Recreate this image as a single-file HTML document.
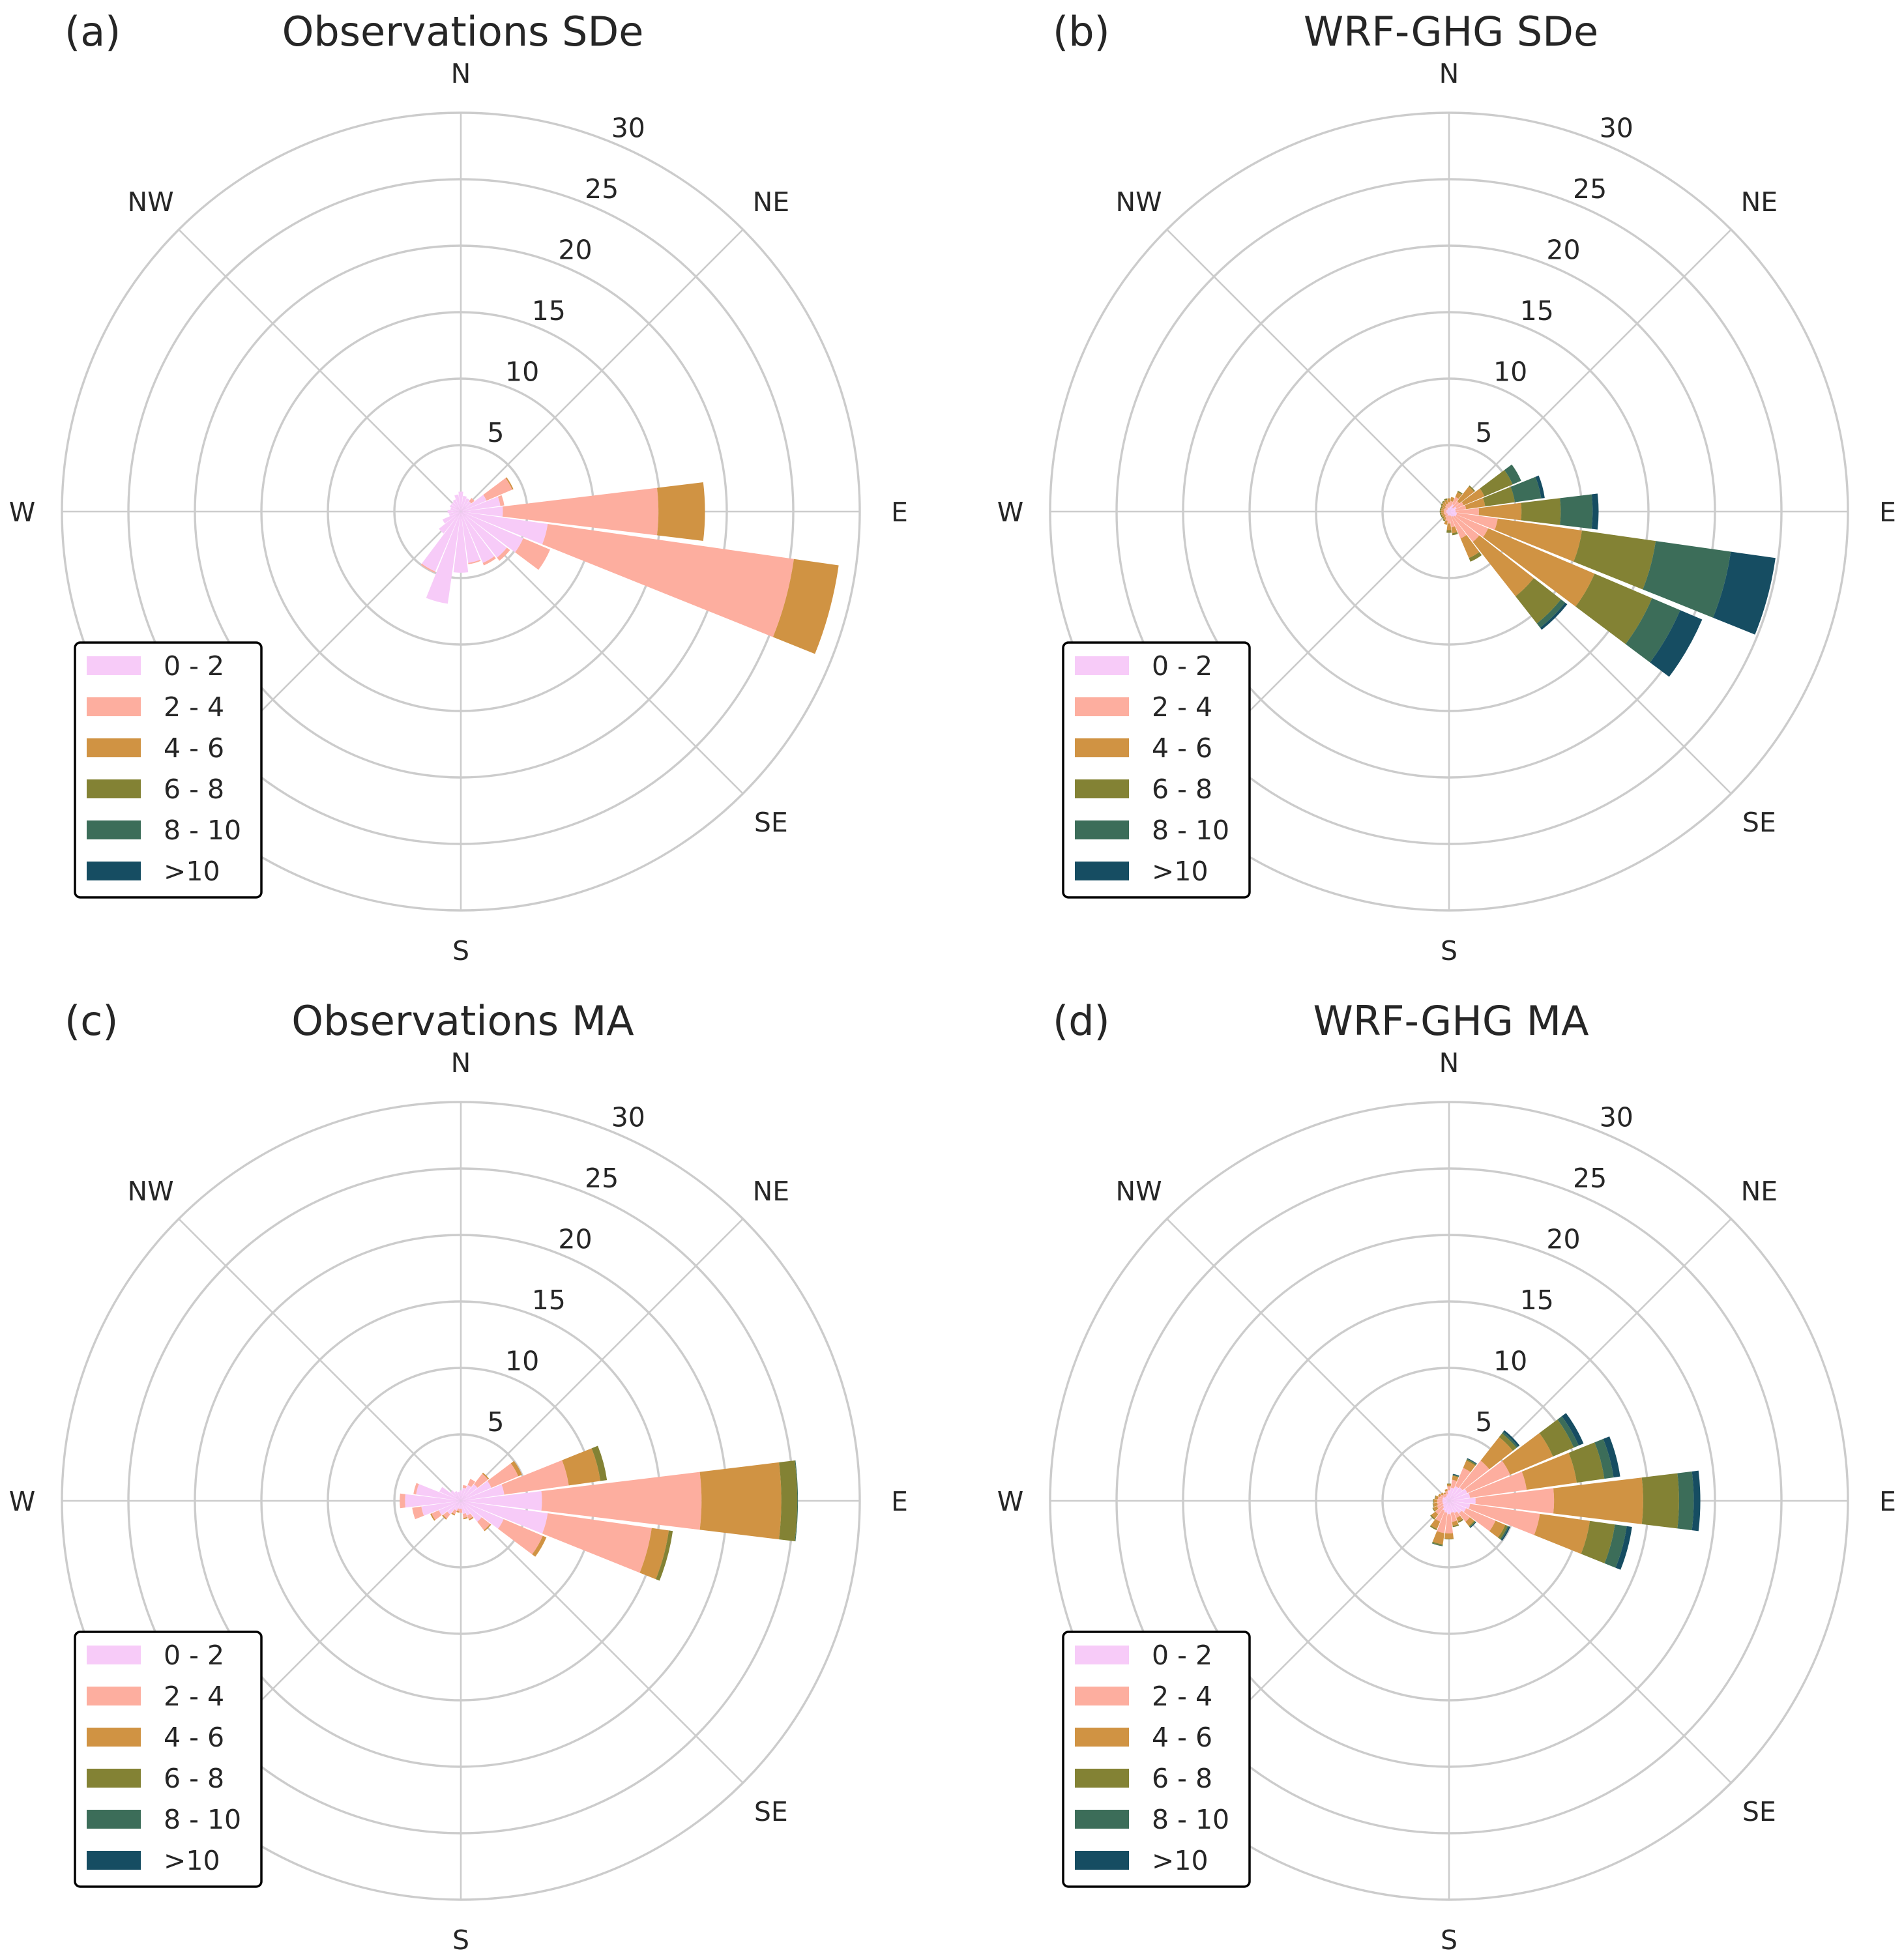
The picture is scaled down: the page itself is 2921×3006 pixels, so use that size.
<!DOCTYPE html>
<html><head><meta charset="utf-8">
<style>
html,body{margin:0;padding:0;background:#fff;}
svg text{font-family:"DejaVu Sans","Liberation Sans",sans-serif;fill:#262626;}
</style></head>
<body>
<svg id="fig" xmlns="http://www.w3.org/2000/svg" width="2921" height="3001" viewBox="0 0 2921 3001"></svg>
<script>
// ---- data: 24 direction sectors (compass degrees), stacked speed bins ----
const directions = [0,15,30,45,60,75,90,105,120,135,150,165,180,195,210,225,240,255,270,285,300,315,330,345];
const speedBins = ["0 - 2","2 - 4","4 - 6","6 - 8","8 - 10",">10"];
const rTicks = [5,10,15,20,25,30];
const compassLabels = ["N","NE","E","SE","S","SW","W","NW"];
const compassAngles = [0,45,90,135,180,225,270,315];
const panelLetters = ["(a)","(b)","(c)","(d)"];
const panelTitles = ["Observations SDe","WRF-GHG SDe","Observations MA","WRF-GHG MA"];
// frequency (%) per direction, increments per speed bin [0-2,2-4,4-6,6-8,8-10,>10]
const obsSDe = [[1.5],[1.2],[1.1],[1.0,0.3],[2.1,2.1,0.1],[3.0,0.3],[3.16,11.7,3.5],[6.6,18.7,3.4],[5.1,2.2],[4.4,0.3],[4.2,0.2],[3.9,0.1],[4.6],[7.0],[4.9,0.1],[2.1],[1.5],[0.9],[1.0],[0.8],[0.9],[0.9],[1.0],[1.3]];
const wrfSDe = [[0.3,0.4,0.3],[0.4,0.4,0.3],[0.6,0.6,0.4,0.1],[0.4,0.6,1.4,0.1],[0.6,0.6,1.7,2.3,0.7],[0.5,0.8,1.45,2.25,2.0,0.27],[0.5,1.75,3.2,2.95,2.4,0.45],[0.6,3.1,6.4,5.6,5.7,3.4],[0.6,2.6,8.7,4.7,2.3,1.8],[0.5,2.4,5.2,2.6,0.4,0.2],[0.4,1.8,1.6,0.3],[0.3,0.9,0.45,0.15],[0.3,0.6,0.5,0.2],[0.3,0.4,0.3],[0.2,0.3,0.2,0.1],[0.2,0.2,0.2,0.1],[0.2,0.2,0.2,0.1],[0.2,0.2,0.2,0.1],[0.2,0.2,0.2,0.1],[0.2,0.2,0.2,0.1],[0.2,0.2,0.2,0.1],[0.2,0.2,0.3,0.1],[0.2,0.3,0.3,0.1],[0.3,0.3,0.3,0.1]];
const obsMA = [[0.8],[1.0,0.2],[1.3,0.5],[1.6,1.0,0.1],[2.5,2.2,0.3],[3.3,4.9,2.4,0.5],[6.1,12.0,6.0,1.2,0.05],[6.6,7.9,1.3,0.3],[3.5,3.2,0.3],[2.0,0.8,0.1],[1.2,0.3,0.1],[1.0,0.3,0.1],[0.6,0.3],[0.6,0.2,0.1],[0.8,0.3,0.1],[1.3,0.4,0.1],[1.8,0.6,0.1],[3.0,0.7],[4.2,0.4],[3.4,0.2],[1.75],[1.0],[0.8],[0.7]];
const wrfMA = [[0.8,0.3,0.15,0.05],[1.0,0.6,0.3,0.05,0.05,0.05],[1.2,1.5,0.6,0.1,0.05,0.05],[1.3,2.55,2.25,0.35,0.15,0.15],[1.5,3.5,3.5,1.7,0.4,0.4],[1.6,4.3,3.8,2.1,0.7,0.5],[2.0,5.9,6.7,2.7,1.1,0.5],[1.6,5.3,3.8,1.9,0.9,0.4],[1.4,2.4,0.8,0.2,0.1,0.1],[1.2,0.8,0.4,0.1,0.05,0.05],[1.0,0.4,0.3,0.1],[0.9,0.7,0.3,0.1],[1.0,1.45,0.4,0.05],[0.9,1.55,0.85,0.1,0.05],[0.8,0.9,0.6,0.1],[0.6,0.7,0.4,0.1],[0.5,0.5,0.3,0.06],[0.5,0.4,0.3,0.05],[0.5,0.4,0.25,0.05],[0.5,0.35,0.2,0.05],[0.5,0.25,0.15],[0.4,0.25,0.15],[0.4,0.2,0.1],[0.5,0.25,0.15]];

const panelData = [obsSDe, wrfSDe, obsMA, wrfMA];
const binColors = ["#F7CBF8","#FDAE9F","#D09343","#838234","#3C6D59","#164D62"];

const NS = "http://www.w3.org/2000/svg";
const svg = document.getElementById("fig");
const centers = [[707,785],[2223,785],[707,2303],[2223,2303]];
const rMax = 30, rPix = 612, halfW = 6.9;
function rScale(v){ return v / rMax * rPix; }
function pt(cx,cy,deg,r){ const a = deg*Math.PI/180; return [cx + r*Math.sin(a), cy - r*Math.cos(a)]; }
function mk(tag, attrs, parent){ const e = document.createElementNS(NS, tag); for (const k in attrs) e.setAttribute(k, attrs[k]); (parent||svg).appendChild(e); return e; }
function wedge(cx,cy,d,r0,r1){
  const a0=d-halfW, a1=d+halfW;
  const p1=pt(cx,cy,a0,r1), p2=pt(cx,cy,a1,r1), p3=pt(cx,cy,a1,r0), p4=pt(cx,cy,a0,r0);
  let s=`M${p1[0]},${p1[1]} A${r1},${r1} 0 0 1 ${p2[0]},${p2[1]} L${p3[0]},${p3[1]}`;
  if (r0>0) s+=` A${r0},${r0} 0 0 0 ${p4[0]},${p4[1]}`;
  return s+" Z";
}

panelData.forEach((data, pi) => {
  const [cx, cy] = centers[pi];
  const dy = pi >= 2 ? 1518 : 0;
  const g = mk("g", {});
  
  
  const t = mk("text", {x: cx+3, y: 70+dy, "font-size": 62, "text-anchor": "middle"}, g);
  t.textContent = panelTitles[pi];
  
  
  const l = mk("text", {x: cx-608, y: 70+dy, "font-size": 62}, g);
  l.textContent = panelLetters[pi];
  
  
  const grid = mk("g", {}, g);
  
  
  compassAngles.forEach(a => {
    const p = pt(cx,cy,a,rPix);
    const ln = mk("line", {x1: cx, y1: cy, x2: p[0], y2: p[1], stroke: "#cccccc", "stroke-width": 2.6}, grid);
    
    
  });
  rTicks.forEach(v => {
    const c = mk("circle", {cx: cx, cy: cy, r: rScale(v), fill: "none", stroke: "#cccccc", "stroke-width": 3.4}, grid);
    
    
  });
  const bars = mk("g", {}, g);
  
  
  directions.forEach((d, di) => {
    let cum = 0;
    data[di].forEach((v, bi) => {
      const r0 = rScale(cum); cum += v; const r1 = rScale(cum);
      const p = mk("path", {d: wedge(cx,cy,d,r0,r1), fill: binColors[bi]}, bars);
      
      
    });
  });
  rTicks.forEach(v => {
    const p = pt(cx,cy,23.5,rScale(v)+32);
    const tx = mk("text", {x: p[0], y: p[1]+16, "font-size": 41, "text-anchor": "middle"}, g);
    tx.textContent = v;
    
    
  });
  compassAngles.forEach((a, ci) => {
    if (compassLabels[ci] === "SW") return;
    const p = pt(cx,cy,a,673);
    const tx = mk("text", {x: p[0], y: p[1]+15, "font-size": 41, "text-anchor": "middle"}, g);
    tx.textContent = compassLabels[ci];
    
    
  });
  const lx = cx - 592, ly = 986 + dy;
  const lg = mk("g", {}, g);
  
  
  mk("rect", {x: lx, y: ly, width: 286, height: 391, rx: 8, fill: "#fff", stroke: "#000", "stroke-width": 3.5}, lg);
  speedBins.forEach((b, bi) => {
    const yy = ly + 35 + bi*63;
    const sw = mk("rect", {x: lx+18, y: yy-14, width: 83, height: 29, fill: binColors[bi]}, lg);
    
    
    const tx = mk("text", {x: lx+136, y: yy+15, "font-size": 41}, lg);
    tx.textContent = b;
    
    
  });
});
</script>
</body></html>
